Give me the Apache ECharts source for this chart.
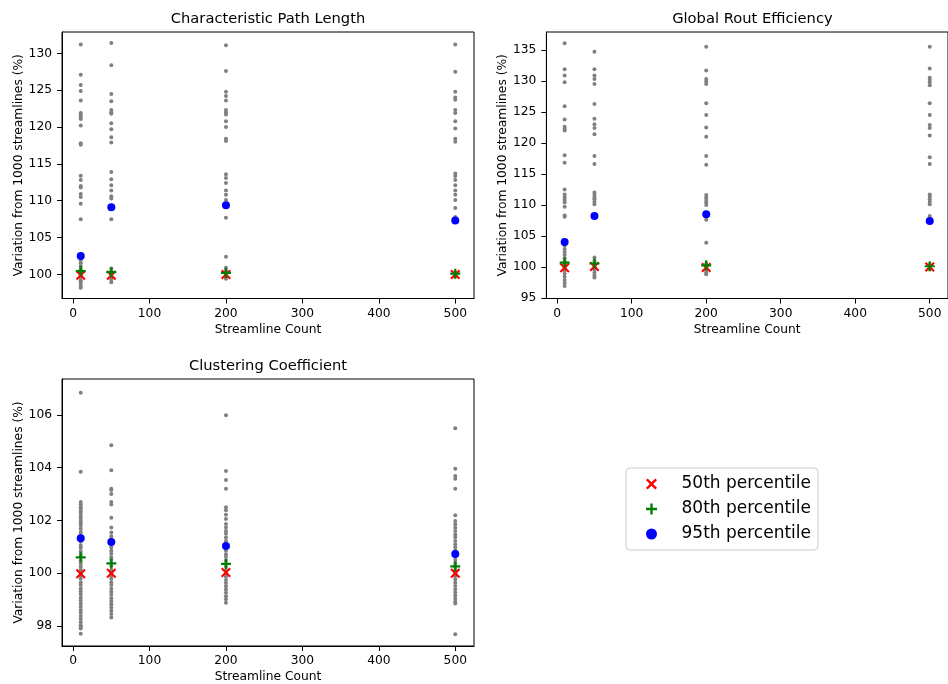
<!DOCTYPE html>
<html><head><meta charset="utf-8">
<script src="https://cdn.jsdelivr.net/npm/echarts@6/dist/echarts.min.js"></script>
<style>html,body{margin:0;padding:0;background:#fff}#c{width:948px;height:684px}</style>
</head><body><div id="c"></div>
<script>
// ---- data ----
const counts = [10, 50, 200, 500];
const xTicks = [0, 100, 200, 300, 400, 500];
const titles = ['Characteristic Path Length', 'Global Rout Efficiency', 'Clustering Coefficient'];
const legendNames = ['50th percentile', '80th percentile', '95th percentile'];

// Characteristic Path Length
const cpl10 = [131.2, 127.1, 125.7, 124.9, 123.6, 121.9, 121.6, 121.3, 121.1, 120.2, 117.8, 117.6, 113.4, 112.8, 112.0, 111.8, 110.9, 110.5, 109.6, 107.5, 101.9, 101.5, 101.1, 100.7, 100.3, 100.0, 99.6, 99.2, 98.9, 98.5, 98.2];
const cpl50 = [131.4, 128.4, 124.5, 123.5, 122.3, 122.0, 121.8, 120.5, 119.7, 118.6, 117.9, 113.9, 112.9, 112.1, 111.4, 110.6, 110.3, 109.1, 107.5, 100.8, 100.4, 100.0, 99.6, 99.3, 98.95];
const cpl200 = [131.1, 127.6, 124.8, 124.2, 123.6, 122.3, 122.0, 121.7, 120.8, 120.0, 118.4, 118.1, 113.6, 113.1, 112.4, 111.4, 110.8, 110.1, 109.4, 107.7, 102.4, 100.9, 100.5, 100.1, 99.7, 99.4];
const cpl500 = [131.2, 127.5, 124.8, 124.0, 123.7, 122.3, 121.9, 120.8, 119.8, 118.4, 118.0, 113.7, 113.35, 112.8, 112.1, 111.4, 110.8, 110.1, 109.0, 107.8, 107.3, 100.3, 100.0, 99.7];
const cplP50 = [99.9, 99.9, 100.0, 100.0];
const cplP80 = [100.45, 100.3, 100.2, 100.1];
const cplP95 = [102.5, 109.1, 109.4, 107.3];
const cplYTicks = [100, 105, 110, 115, 120, 125, 130];

// Global Rout Efficiency
const gre10 = [136.1, 131.9, 130.9, 129.8, 125.9, 123.8, 122.6, 122.3, 122.0, 118.0, 116.8, 112.5, 111.7, 111.2, 110.8, 110.4, 109.7, 108.3, 108.1, 103.4, 102.9, 102.4, 101.9, 101.4, 100.9, 100.4, 99.9, 99.4, 98.9, 98.4, 97.9, 97.4, 96.9];
const gre50 = [134.7, 131.9, 130.9, 130.3, 129.5, 126.3, 123.9, 123.0, 122.4, 121.4, 117.9, 116.6, 112.0, 111.6, 111.2, 110.9, 110.5, 110.1, 108.2, 101.5, 101.0, 100.5, 100.0, 99.5, 99.0, 98.6, 98.3];
const gre200 = [135.5, 131.7, 130.3, 129.9, 129.5, 126.4, 124.5, 122.5, 121.0, 117.9, 116.5, 111.6, 111.2, 110.8, 110.4, 110.0, 108.5, 107.6, 103.9, 100.5, 100.0, 99.5, 99.1, 98.8];
const gre500 = [135.5, 132.0, 130.5, 130.2, 129.8, 129.3, 126.4, 124.5, 122.9, 122.4, 121.2, 117.7, 116.6, 111.7, 111.35, 110.9, 110.5, 110.1, 108.2, 107.4, 100.4, 100.0, 99.6];
const greP50 = [99.85, 100.05, 99.9, 100.0];
const greP80 = [100.7, 100.55, 100.25, 100.1];
const greP95 = [104.0, 108.2, 108.5, 107.4];
const greYTicks = [95, 100, 105, 110, 115, 120, 125, 130, 135];

// Clustering Coefficient
const cc10 = [106.84, 103.84, 102.7, 102.61, 102.5, 102.44, 102.36, 102.27, 102.17, 102.08, 101.98, 101.88, 101.79, 101.67, 101.54, 101.43, 101.3, 101.19, 101.05, 100.95, 100.82, 100.71, 100.6, 100.47, 100.37, 100.24, 100.13, 100.02, 99.9, 99.79, 99.65, 99.55, 99.42, 99.31, 99.2, 99.07, 98.96, 98.84, 98.73, 98.6, 98.5, 98.38, 98.26, 98.14, 98.03, 97.97, 97.9, 97.7];
const cc50 = [104.85, 103.9, 103.2, 103.15, 103.0, 102.7, 102.6, 102.1, 101.73, 101.54, 101.4, 101.28, 101.1, 100.98, 100.85, 100.74, 100.6, 100.51, 100.38, 100.27, 100.12, 100.03, 99.9, 99.79, 99.66, 99.55, 99.41, 99.3, 99.18, 99.05, 98.94, 98.82, 98.7, 98.58, 98.45, 98.32];
const cc200 = [105.99, 103.87, 103.53, 103.2, 102.5, 102.39, 102.21, 102.05, 101.86, 101.73, 101.6, 101.49, 101.35, 101.22, 101.1, 100.97, 100.85, 100.72, 100.61, 100.48, 100.36, 100.24, 100.11, 99.99, 99.87, 99.74, 99.63, 99.5, 99.38, 99.26, 99.13, 99.01, 98.88];
const cc500 = [105.49, 103.96, 103.68, 103.58, 103.2, 102.2, 101.98, 101.85, 101.72, 101.6, 101.47, 101.36, 101.22, 101.1, 100.98, 100.86, 100.73, 100.61, 100.5, 100.37, 100.25, 100.12, 100.0, 99.88, 99.76, 99.64, 99.51, 99.39, 99.27, 99.15, 99.03, 98.92, 98.85, 97.69];
const ccP50 = [99.98, 100.0, 100.03, 100.0];
const ccP80 = [100.6, 100.37, 100.35, 100.26];
const ccP95 = [101.32, 101.18, 101.03, 100.73];
const ccYTicks = [98, 100, 102, 104, 106];

// ---- layout ----
const FONT = 'DejaVu Sans';
const panels = [
  { title: titles[0], raw: [cpl10, cpl50, cpl200, cpl500], p: [cplP50, cplP80, cplP95], yTicks: cplYTicks,
    ymin: 96.73, ymax: 132.9, left: 62, top: 32, width: 412, height: 266.5 },
  { title: titles[1], raw: [gre10, gre50, gre200, gre500], p: [greP50, greP80, greP95], yTicks: greYTicks,
    ymin: 94.9, ymax: 137.9, left: 546.4, top: 32, width: 412, height: 266.5 },
  { title: titles[2], raw: [cc10, cc50, cc200, cc500], p: [ccP50, ccP80, ccP95], yTicks: ccYTicks,
    ymin: 97.24, ymax: 107.36, left: 62, top: 379, width: 412, height: 267 }
];

const crossPath = 'path://M0,1.5L1.5,0L5,3.5L8.5,0L10,1.5L6.5,5L10,8.5L8.5,10L5,6.5L1.5,10L0,8.5L3.5,5Z';
const plusPath = 'path://M3.9,0H6.1V3.9H10V6.1H6.1V10H3.9V6.1H0V3.9H3.9Z';
const pStyles = [
  { symbol: crossPath, size: 10, color: '#ff0000' },
  { symbol: plusPath, size: 10, color: '#008000' },
  { symbol: 'circle', size: 8, color: '#0000ff' }
];

const grids = [], xAxes = [], yAxes = [], series = [], titleOpts = [];
panels.forEach((pn, i) => {
  grids.push({ left: pn.left, top: pn.top, width: pn.width, height: pn.height, containLabel: false,
    show: true, borderColor: '#000', borderWidth: 1, backgroundColor: 'transparent' });
  xAxes.push({ type: 'value', gridIndex: i, min: -14.5, max: 524.5,
    name: 'Streamline Count', nameLocation: 'middle', nameGap: 25,
    nameTextStyle: { fontFamily: FONT, fontSize: 12.25, color: '#000' },
    axisLine: { show: true, onZero: false, lineStyle: { color: '#000', width: 1 } },
    axisTick: { show: true, length: 5, lineStyle: { color: '#000' }, customValues: xTicks },
    axisLabel: { margin: 9, fontFamily: FONT, fontSize: 12.25, color: '#000', customValues: xTicks },
    splitLine: { show: false } });
  yAxes.push({ type: 'value', gridIndex: i, min: pn.ymin, max: pn.ymax,
    name: 'Variation from 1000 streamlines (%)', nameLocation: 'middle', nameGap: 36, nameRotate: 90,
    nameTextStyle: { fontFamily: FONT, fontSize: 12.25, color: '#000' },
    axisLine: { show: true, onZero: false, lineStyle: { color: '#000', width: 1 } },
    axisTick: { show: true, length: 5, lineStyle: { color: '#000' }, customValues: pn.yTicks },
    axisLabel: { margin: 10, fontFamily: FONT, fontSize: 12.25, color: '#000', customValues: pn.yTicks },
    splitLine: { show: false } });
  titleOpts.push({ text: pn.title, left: pn.left + pn.width / 2, top: pn.top - 20, textAlign: 'center', padding: 0,
    textStyle: { fontFamily: FONT, fontSize: 14.7, fontWeight: 'normal', color: '#000' } });
  const grey = [];
  pn.raw.forEach((arr, k) => arr.forEach(v => grey.push([counts[k], v])));
  series.push({ type: 'scatter', name: 'raw', xAxisIndex: i, yAxisIndex: i, data: grey,
    symbol: 'circle', symbolSize: 4, itemStyle: { color: '#808080', opacity: 1 }, silent: true, z: 1 });
  pn.p.forEach((arr, k) => {
    series.push({ type: 'scatter', name: legendNames[k], xAxisIndex: i, yAxisIndex: i,
      data: arr.map((v, j) => [counts[j], v]),
      symbol: pStyles[k].symbol, symbolSize: pStyles[k].size, symbolKeepAspect: true,
      itemStyle: { color: pStyles[k].color, opacity: 1 }, z: 2 + k });
  });
});

const chart = echarts.init(document.getElementById('c'), null, { renderer: 'canvas' });
chart.setOption({
  animation: false,
  backgroundColor: '#fff',
  title: titleOpts,
  grid: grids, xAxis: xAxes, yAxis: yAxes, series: series,
  legend: {
    data: legendNames, orient: 'vertical', left: 626, top: 468,
    padding: [7.5, 7, 7.5, 20], itemGap: 8, itemWidth: 50, itemHeight: 11,
    backgroundColor: '#fff', borderColor: '#cccccc', borderWidth: 1, borderRadius: 4,
    itemStyle: { opacity: 1 },
    textStyle: { fontFamily: FONT, fontSize: 17, color: '#000', lineHeight: 17 },
    selectedMode: false
  }
});
</script></body></html>
